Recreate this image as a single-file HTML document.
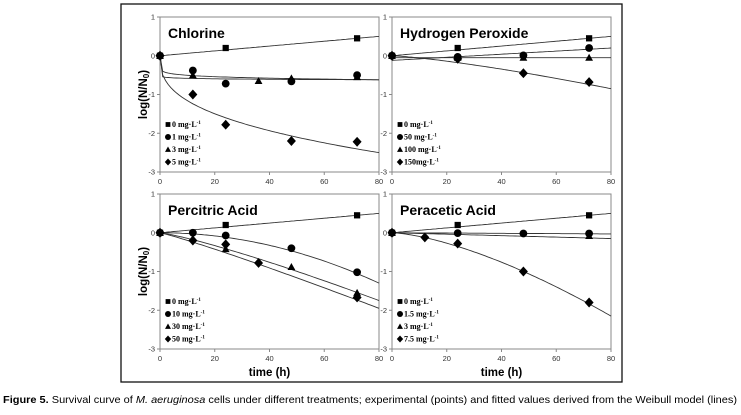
<!DOCTYPE html>
<html><head><meta charset="utf-8"><style>
body{margin:0;background:#fff;width:741px;height:410px;overflow:hidden;font-family:"Liberation Sans",sans-serif}
</style></head><body>
<svg id="fig" width="741" height="410" xmlns="http://www.w3.org/2000/svg">
<rect x="121" y="4" width="501" height="378" fill="none" stroke="#111" stroke-width="1.3"/>
<text x="3" y="403" font-size="10.3" textLength="734" lengthAdjust="spacingAndGlyphs"><tspan font-weight="bold">Figure 5.</tspan> Survival curve of <tspan font-style="italic">M. aeruginosa</tspan> cells under different treatments; experimental (points) and fitted values derived from the Weibull model (lines)</text>
</svg>
<script>
// x categories (time, h)
const tChl=[[0,24,72],[0,12,24,48,72],[0,12,36,48,72],[0,12,24,48,72]];
const vChl=[[0,0.2,0.45],[0,-0.38,-0.72,-0.66,-0.5],[0,-0.5,-0.65,-0.58,-0.55],[0,-1,-1.78,-2.2,-2.22]];
const tH2O2=[[0,24,72],[0,24,48,72],[0,24,48,72],[0,24,48,72]];
const vH2O2=[[0,0.2,0.45],[0,-0.03,0.01,0.2],[0,-0.05,-0.05,-0.05],[0,-0.08,-0.45,-0.68]];
const tPcit=[[0,24,72],[0,12,24,48,72],[0,24,48,72],[0,12,24,36,72]];
const vPcit=[[0,0.2,0.45],[0,0,-0.07,-0.4,-1.02],[0,-0.42,-0.88,-1.55],[0,-0.2,-0.3,-0.78,-1.67]];
const tPac=[[0,24,72],[0,24,48,72],[0,72],[0,12,24,48,72]];
const vPac=[[0,0.2,0.45],[0,-0.01,-0.02,-0.02],[0,-0.08],[0,-0.12,-0.28,-1,-1.8]];
// fitted curve params: y = b - A*(t/80)^p
const fitB=[[0,0,0,0],[0,-0.12,-0.05,0],[0,0,0,0],[0,0,0,0]];
const fitA=[[-0.5,0.62,0.62,2.5],[-0.5,-0.32,0,0.85],[-0.5,1.3,1.75,1.95],[-0.5,0.15,0.03,2.15]];
const fitP=[[1,0.1,0.03,0.37],[1,1,1,1.3],[1,2,1.2,1.1],[1,1,1,1.5]];
const titles=["Chlorine","Hydrogen Peroxide","Percitric Acid","Peracetic Acid"];
const legends=[["0 mg·L","1 mg·L","3 mg·L","5 mg·L"],["0 mg·L","50 mg·L","100 mg·L","150mg·L"],["0 mg·L","10 mg·L","30 mg·L","50 mg·L"],["0 mg·L","1.5 mg·L","3 mg·L","7.5 mg·L"]];
const xTicks=[0,20,40,60,80];
const yTicks=[1,0,-1,-2,-3];
const T=[tChl,tH2O2,tPcit,tPac], V=[vChl,vH2O2,vPcit,vPac];
const origins=[[160,17],[392,17],[160,194],[392,194]];
const W=219,H=155,NS="http://www.w3.org/2000/svg",svg=document.getElementById('fig');
function mk(tag,at,par){const e=document.createElementNS(NS,tag);for(const k in at)e.setAttribute(k,at[k]);(par||svg).appendChild(e);return e;}
function marker(g,k,x,y,s){
  if(k==0)return mk('rect',{x:x-s*0.8,y:y-s*0.8,width:s*1.6,height:s*1.6,fill:'#000'},g);
  if(k==1)return mk('circle',{cx:x,cy:y,r:s,fill:'#000'},g);
  if(k==2)return mk('polygon',{points:`${x},${y-s} ${x+s},${y+s*0.8} ${x-s},${y+s*0.8}`,fill:'#000'},g);
  return mk('polygon',{points:`${x},${y-s*1.1} ${x+s},${y} ${x},${y+s*1.1} ${x-s},${y}`,fill:'#000'},g);
}
for(let p=0;p<4;p++){
  const [ox,oy]=origins[p];
  const sx=t=>ox+t/80*W, sy=v=>oy+(1-v)/4*H;
  const g=mk('g',{});
  
  
  const pa=mk('rect',{x:ox,y:oy,width:W,height:H,fill:'none',stroke:'#888','stroke-width':1},g);
  
  
  xTicks.forEach(t=>{
    mk('line',{x1:sx(t),x2:sx(t),y1:oy+H,y2:oy+H+3,stroke:'#888'},g);
    const tx=mk('text',{x:sx(t),y:oy+H+12,'font-size':7.5,'text-anchor':'middle',fill:'#333'},g);tx.textContent=t;
    
    
  });
  yTicks.forEach(v=>{
    mk('line',{x1:ox-3,x2:ox,y1:sy(v),y2:sy(v),stroke:'#888'},g);
    const tx=mk('text',{x:ox-5,y:sy(v)+2.5,'font-size':7.5,'text-anchor':'end',fill:'#333'},g);tx.textContent=v;
    
    
  });
  const ti=mk('text',{x:ox+8,y:oy+21,'font-size':14,'font-weight':'bold'},g);ti.textContent=titles[p];
  
  
  if(p%2==0){
    const yl=mk('text',{x:0,y:0,'font-size':11.5,'font-weight':'bold','text-anchor':'middle',transform:`translate(${ox-13},${oy+H/2}) rotate(-90)`},g);
    yl.innerHTML='log(N/N<tspan font-size="8" dy="2">0</tspan><tspan dy="-2">)</tspan>';
    
    
  }
  if(p>=2){
    const xl=mk('text',{x:ox+W/2,y:oy+H+27,'font-size':11.5,'font-weight':'bold','text-anchor':'middle'},g);xl.textContent='time (h)';
    
    
  }
  for(let s=0;s<4;s++){
    let d='';
    for(let i=0;i<=80;i++){const t=i;const y=fitB[p][s]-fitA[p][s]*Math.pow(t/80,fitP[p][s]);d+=(i?'L':'M')+sx(t).toFixed(1)+','+sy(y).toFixed(1);}
    const l=mk('path',{d:d,fill:'none',stroke:'#333','stroke-width':0.9},g);
    
    
  }
  for(let s=0;s<4;s++){
    T[p][s].forEach((t,i)=>{
      const m=marker(g,s,sx(t),sy(V[p][s][i]),s==3?4.5:3.9);
      
      
    });
    const ly=oy+110+s*12.5;
    const lm=marker(g,s,ox+8,ly-2.5,s==3?3.2:3);
    
    
    const lt=mk('text',{x:ox+12,y:ly,'font-size':8,'font-weight':'bold','font-family':'Liberation Serif, serif'},g);
    lt.innerHTML=legends[p][s]+'<tspan font-size="5" dy="-3">-1</tspan>';
    
    
  }
}
</script>
</body></html>
